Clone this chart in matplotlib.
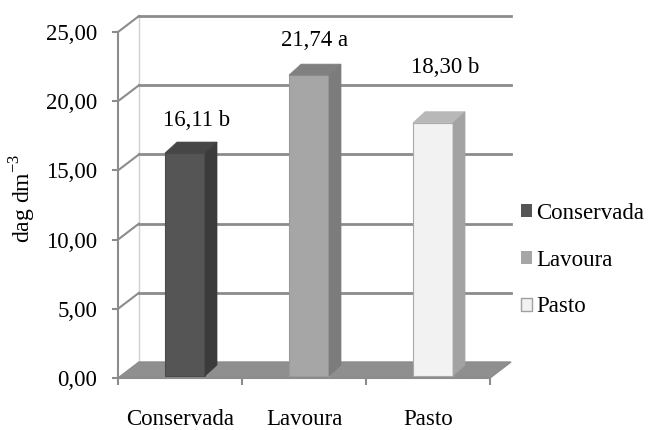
import matplotlib
matplotlib.use('Agg')
import matplotlib.pyplot as plt
from matplotlib.patches import Polygon, Patch
from matplotlib.ticker import FuncFormatter, FixedLocator

categories = ['Conservada', 'Lavoura', 'Pasto']
values = [16.11, 21.74, 18.30]
letters = ['b', 'a', 'b']
yticks = [0, 5, 10, 15, 20, 25]

front_colors = ['#555555', '#a6a6a6', '#f2f2f2']
side_colors = ['#3b3b3b', '#7c7c7c', '#a3a3a3']
top_colors = ['#464646', '#808080', '#b8b8b8']
edge_colors = ['#4a4a4a', '#9a9a9a', '#a8a8a8']
label_off = [(6, 22), (0, 24), (6, 44)]  # pixel offsets of the value labels

plt.rcParams['font.family'] = ['Liberation Serif', 'DejaVu Serif']
plt.rcParams['mathtext.fontset'] = 'custom'
plt.rcParams['mathtext.rm'] = 'Liberation Serif'
fs = 16.5
grid_c = '#8c8c8c'

fig = plt.figure(figsize=(6.52, 4.30), dpi=100)
ax = fig.add_axes([118 / 652, 52 / 430, 372 / 652, 346 / 430])
ax.set_xlim(-0.5, 2.5)
ax.set_ylim(0, 25)
for s in ax.spines.values():
    s.set_visible(False)

px = 3 / 372    # data units per pixel (x)
py = 25 / 346   # data units per pixel (y)
wdx, wdy = 21 * px, 16 * py     # wall depth
bdx, bdy = 12 * px, 11 * py     # bar depth
sx, sy = 5 * px, 2 * py         # bar front offset
bw = 40 * px

# back wall + side wall grid
x0, x1 = -0.5, 2.5
ax.plot([x0 + wdx, x0 + wdx], [wdy, 25 + wdy], color='#d0d0d0', lw=1, clip_on=False, zorder=1)
for v in yticks[1:]:
    ax.plot([x0 + wdx, x1 + wdx], [v + wdy, v + wdy], color=grid_c, lw=2, clip_on=False, zorder=1)
    ax.plot([x0, x0 + wdx], [v, v + wdy], color=grid_c, lw=1.5, clip_on=False, zorder=1)

# floor
floor = Polygon([(x0, 0), (x1, 0), (x1 + wdx, wdy), (x0 + wdx, wdy)], closed=True,
                facecolor='#8f8f8f', edgecolor=grid_c, lw=1, clip_on=False, zorder=2)
ax.add_patch(floor)
ax.plot([x0, x0], [0, 25], color=grid_c, lw=1.5, clip_on=False, zorder=2)
ax.plot([x0, x1], [0, 0], color=grid_c, lw=1.5, clip_on=False, zorder=2)

# bars
for i, v in enumerate(values):
    xl = i + sx - bw / 2
    xr = xl + bw
    b0 = sy
    top = v + sy
    ax.bar(i + sx, v, bottom=b0, width=bw, color=front_colors[i], edgecolor=edge_colors[i],
           lw=0.8, zorder=3, clip_on=False)
    ax.add_patch(Polygon([(xl, top), (xr, top), (xr + bdx, top + bdy), (xl + bdx, top + bdy)],
                         closed=True, facecolor=top_colors[i], edgecolor=top_colors[i], lw=0.5,
                         zorder=3, clip_on=False))
    ax.add_patch(Polygon([(xr, b0), (xr, top), (xr + bdx, top + bdy), (xr + bdx, b0 + bdy)],
                         closed=True, facecolor=side_colors[i], edgecolor=side_colors[i], lw=0.5,
                         zorder=3, clip_on=False))
    txt = f'{v:.2f}'.replace('.', ',') + ' ' + letters[i]
    ax.annotate(txt, (i + sx + bdx / 2, top + bdy), xytext=label_off[i], textcoords='offset pixels',
                ha='center', va='center', fontsize=fs, zorder=5, annotation_clip=False)

# ticks
ax.yaxis.set_major_locator(FixedLocator(yticks))
ax.yaxis.set_major_formatter(FuncFormatter(lambda v, p: f'{v:.2f}'.replace('.', ',')))
ax.tick_params(axis='y', length=4.3, width=1.5, color=grid_c, pad=10.5, labelsize=fs)
ax.set_xticks([0, 1, 2])
ax.set_xticklabels(categories)
ax.set_xticks([-0.5, 0.5, 1.5, 2.5], minor=True)
ax.tick_params(axis='x', which='major', length=0, pad=22, labelsize=fs)
ax.tick_params(axis='x', which='minor', length=5, width=1.5, color=grid_c)

fig.text(23 / 652, 1 - 198 / 430, 'dag dm$^{-3}$', rotation=90, ha='center', va='center', fontsize=17)

handles = [Patch(facecolor=front_colors[0], edgecolor='none'),
           Patch(facecolor=front_colors[1], edgecolor='none'),
           Patch(facecolor=front_colors[2], edgecolor='#a0a0a0')]
fig.legend(handles, categories, loc='upper left', bbox_to_anchor=(521 / 652, 1 - 203 / 430),
           frameon=False, fontsize=fs, borderpad=0, borderaxespad=0, handlelength=0.48,
           handleheight=0.48, handletextpad=0.2, labelspacing=1.12)

fig.savefig('out.png', dpi=100)
